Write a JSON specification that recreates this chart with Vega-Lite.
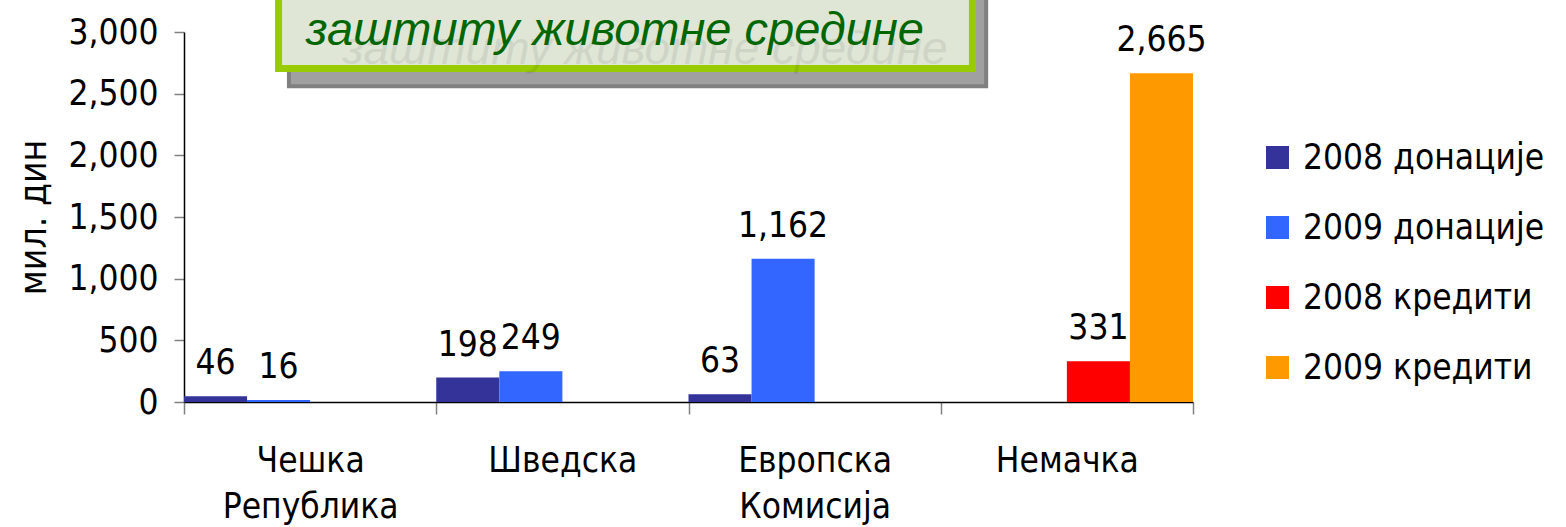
{
  "$schema": "https://vega.github.io/schema/vega-lite/v6.json",
  "autosize": {"type": "none"},
  "width": 1009,
  "height": 370,
  "padding": {"left": 184, "top": 32, "right": 373, "bottom": 125},
  "background": "white",
  "config": {
    "font": "DejaVu Sans Condensed",
    "view": {"stroke": null},
    "axis": {"labelFont": "DejaVu Sans Condensed", "titleFont": "DejaVu Sans Condensed", "labelColor": "black", "titleColor": "black"},
    "legend": {"labelFont": "DejaVu Sans Condensed"}
  },
  "datasets": {
    "bars": [
      {"country": "Чешка Република", "series": "2008 донације", "value": 46},
      {"country": "Чешка Република", "series": "2009 донације", "value": 16},
      {"country": "Шведска", "series": "2008 донације", "value": 198},
      {"country": "Шведска", "series": "2009 донације", "value": 249},
      {"country": "Европска Комисија", "series": "2008 донације", "value": 63},
      {"country": "Европска Комисија", "series": "2009 донације", "value": 1162},
      {"country": "Немачка", "series": "2008 кредити", "value": 331},
      {"country": "Немачка", "series": "2009 кредити", "value": 2665}
    ],
    "deco": [{"title": "заштиту животне средине"}]
  },
  "layer": [
    {
      "data": {"name": "bars"},
      "layer": [
        {
          "mark": {"type": "bar"},
          "encoding": {
            "x": {
              "field": "country", "type": "nominal",
              "sort": ["Чешка Република", "Шведска", "Европска Комисија", "Немачка"],
              "scale": {"paddingInner": 0, "paddingOuter": 0},
              "axis": {
                "title": null, "labelAngle": 0, "labelFontSize": 35,
                "labelExpr": "split(datum.label, ' ')", "labelLineHeight": 46,
                "labelPadding": 29, "tickBand": "extent", "tickSize": 12,
                "tickColor": "#808080", "tickWidth": 1.5, "domainColor": "black", "domainWidth": 1.5,
                "labelBaseline": "top"
              }
            },
            "xOffset": {
              "field": "series", "type": "nominal",
              "scale": {"domain": ["2008 донације", "2009 донације", "2008 кредити", "2009 кредити"], "paddingInner": 0, "paddingOuter": 0}
            },
            "y": {
              "field": "value", "type": "quantitative",
              "scale": {"domain": [0, 3000], "nice": false},
              "axis": {
                "title": "мил. дин", "titleFontSize": 37, "titleFontWeight": "normal", "titlePadding": 14,
                "values": [0, 500, 1000, 1500, 2000, 2500, 3000],
                "format": ",.0f",
                "labelFontSize": 35, "labelPadding": 16, "tickSize": 10, "tickColor": "#808080", "tickWidth": 1.5,
                "domainColor": "black", "domainWidth": 1.5, "grid": false
              }
            },
            "color": {
              "field": "series", "type": "nominal",
              "scale": {"domain": ["2008 донације", "2009 донације", "2008 кредити", "2009 кредити"], "range": ["#333399", "#3366FF", "#FF0000", "#FF9900"]},
              "legend": {
                "title": null, "orient": "none", "legendX": 1076, "legendY": 108,
                "symbolType": "square", "symbolSize": 529, "symbolStrokeWidth": 0,
                "labelFontSize": 35, "labelOffset": 8, "rowPadding": 34, "labelColor": "black", "labelLimit": 400
              }
            }
          }
        },
        {
          "mark": {"type": "text", "fontSize": 35, "baseline": "alphabetic", "dy": -22, "color": "black"},
          "encoding": {
            "x": {"field": "country", "type": "nominal", "sort": ["Чешка Република", "Шведска", "Европска Комисија", "Немачка"]},
            "xOffset": {"field": "series", "type": "nominal"},
            "y": {"field": "value", "type": "quantitative"},
            "text": {"field": "value", "type": "quantitative", "format": ","}
          }
        }
      ]
    },
    {
      "data": {"name": "deco"},
      "layer": [
        {
          "mark": {"type": "rect", "fill": "#a0a0a0", "stroke": "#808080", "strokeWidth": 4},
          "encoding": {
            "x": {"datum": 0.104, "type": "quantitative", "scale": {"domain": [0, 1], "nice": false}, "axis": null},
            "x2": {"datum": 0.795},
            "y": {"datum": 2560, "type": "quantitative", "scale": {"domain": [0, 3000], "nice": false}, "axis": null},
            "y2": {"datum": 3400}
          }
        },
        {
          "mark": {"type": "rect", "fill": "#dfe6d6", "stroke": "#99CC00", "strokeWidth": 7},
          "encoding": {
            "x": {"datum": 0.0937, "type": "quantitative"},
            "x2": {"datum": 0.7814},
            "y": {"datum": 2704, "type": "quantitative"},
            "y2": {"datum": 3400}
          }
        },
        {
          "mark": {"type": "text", "font": "Liberation Sans", "fontStyle": "italic", "fontSize": 46, "color": "#000000", "opacity": 0.07, "align": "center", "baseline": "alphabetic"},
          "encoding": {
            "x": {"datum": 0.457, "type": "quantitative"},
            "y": {"datum": 2740, "type": "quantitative"},
            "text": {"field": "title"}
          }
        },
        {
          "mark": {"type": "text", "font": "Liberation Sans", "fontStyle": "italic", "fontSize": 47, "color": "#006600", "align": "center", "baseline": "alphabetic"},
          "encoding": {
            "x": {"datum": 0.427, "type": "quantitative"},
            "y": {"datum": 2895, "type": "quantitative"},
            "text": {"field": "title"}
          }
        }
      ]
    }
  ],
  "resolve": {"scale": {"x": "independent", "y": "independent"}}
}
